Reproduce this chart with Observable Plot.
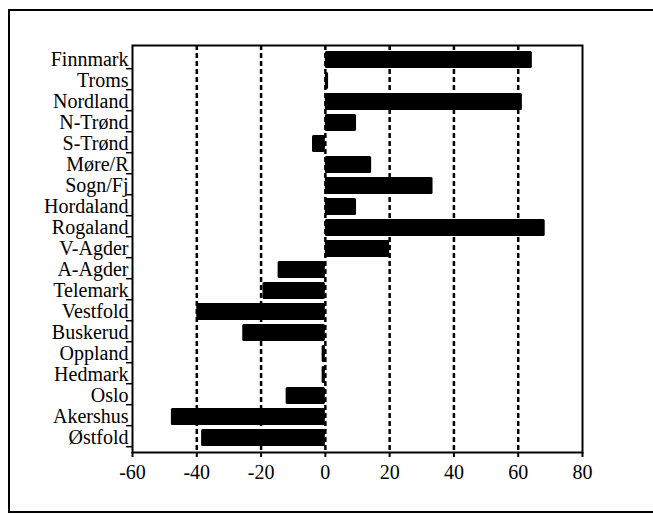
<!DOCTYPE html>
<html><head><meta charset="utf-8">
<script src="https://cdn.jsdelivr.net/npm/d3@7"></script>
<script src="https://cdn.jsdelivr.net/npm/@observablehq/plot@0.6"></script>
<style>
body{margin:0;background:#fff;}
#wrap{position:relative;width:653px;height:514px;overflow:hidden;background:#fff;}
#wrap svg{position:absolute;left:0;top:0;}
#border{position:absolute;left:8px;top:9px;width:670px;height:504px;border:2px solid #000;box-sizing:border-box;pointer-events:none;}
</style></head><body><div id="wrap"><div id="border"></div></div>
<script>
const counties = ["Finnmark","Troms","Nordland","N-Trønd","S-Trønd","Møre/R","Sogn/Fj","Hordaland","Rogaland","V-Agder","A-Agder","Telemark","Vestfold","Buskerud","Oppland","Hedmark","Oslo","Akershus","Østfold"];
const changes = [64.4, 1, 61.3, 9.7, -4, 14.4, 33.5, 9.7, 68.4, 20, -14.7, -19.4, -40, -25.7, -1, -1, -12.2, -47.9, -38.5];
const xTicks = [-60,-40,-20,0,20,40,60,80];
const gridValues = [-40,-20,0,20,40,60];

const data = counties.map((c, i) => ({county: c, value: changes[i]}));

const W = 653, H = 514, mTop = 45, mBottom = 62, mLeft = 132, mRight = 71;
const step = (H - mTop - mBottom) / counties.length;
const font = "'Liberation Serif', 'Times New Roman', serif";

const chart = Plot.plot({
  width: W, height: H,
  marginTop: mTop, marginBottom: mBottom, marginLeft: mLeft, marginRight: mRight,
  style: {fontFamily: font, fontSize: "20px", background: "white", color: "black"},
  x: {domain: [-60, 80], ticks: xTicks, label: null},
  y: {domain: counties, padding: 0.18, label: null},
  marks: [
    Plot.ruleX(gridValues, {stroke: "black", strokeWidth: 2.5, strokeDasharray: "5,3"}),
    Plot.barX(data, {x: "value", y: "county", fill: "black", rx: 1.5}),
    Plot.frame({stroke: "black", strokeWidth: 2}),
    Plot.axisX({ticks: xTicks, tickSize: 5, tickPadding: 7, fontSize: 20, fontFamily: font, stroke: "black", strokeWidth: 2, tickFormat: d => String(d), label: null}),
    Plot.axisY({tickSize: 0, tickPadding: 4, fontSize: 20, fontFamily: font, label: null}),
    Plot.axisY({tickSize: 6, tickFormat: () => "", dy: step / 2 - 2, strokeWidth: 1.5, label: null})
  ]
});
document.getElementById("wrap").insertBefore(chart, document.getElementById("border"));
</script>
</body></html>
